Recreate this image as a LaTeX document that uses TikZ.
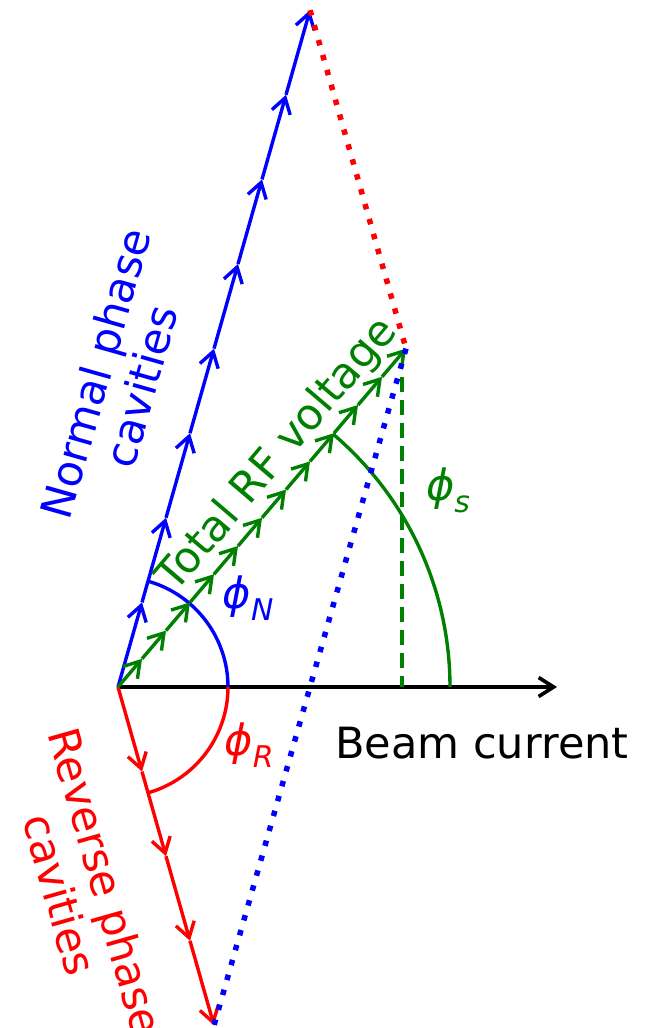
\documentclass[tikz,border=0pt]{standalone}
\usepackage{fontspec}
\setmainfont{DejaVu Sans}
\usetikzlibrary{arrows.meta, calc}
\definecolor{mplBlue}{HTML}{0000FF}
\definecolor{mplRed}{HTML}{FF0000}
\definecolor{mplGreen}{HTML}{008000}
\newcommand{\phisub}[1]{{\itshape ϕ\raisebox{-0.28em}{\fontsize{17}{17}\selectfont #1}}}
\tikzset{
    font=\fontsize{24.5}{27}\selectfont,
    >={Straight Barb[length=0.3cm, width=0.38cm]},
    % Vectors
    vecN/.style={->, draw=mplBlue, line width=0.068cm},
    vecR/.style={->, draw=mplRed, line width=0.068cm},
    vecT/.style={->, draw=mplGreen, line width=0.068cm},
    axis/.style={->, draw=black, line width=0.072cm},
    % Sums & angles
    sumN/.style={draw=mplBlue, line width=0.11cm, dash pattern=on 0.11cm off 0.2cm},
    sumR/.style={draw=mplRed, line width=0.11cm, dash pattern=on 0.11cm off 0.2cm},
    projT/.style={draw=mplGreen, line width=0.068cm, dash pattern=on 0.3cm off 0.16cm},
    arcN/.style={draw=mplBlue, line width=0.068cm},
    arcR/.style={draw=mplRed, line width=0.068cm},
    arcT/.style={draw=mplGreen, line width=0.068cm},
    % Labels
    lblN/.style={text=mplBlue, align=center},
    lblR/.style={text=mplRed, align=center},
    lblT/.style={text=mplGreen, align=center}
}

\begin{document}
\begin{tikzpicture}[x=0.02cm, y=0.02cm]
\useasboundingbox (-118,-341) rectangle (539,687);

\def\segL{87.94}
\def\angN{74.16}
\pgfmathsetmacro{\angT}{atan(4*sin(\angN)/(12*cos(\angN)))}

\coordinate (O) at (0,0);
\coordinate (B) at (439,0);
\coordinate (n0) at (O);
\coordinate (r0) at (O);
\coordinate (g0) at (O);
\foreach \i in {1,...,8} \coordinate (n\i) at (\angN:{\i*\segL});
\foreach \i in {1,...,4} \coordinate (r\i) at (-\angN:{\i*\segL});
\coordinate (T) at ($(n8)+(r4)$);
\foreach \i in {1,...,12} \coordinate (g\i) at ($(O)!\i/12!(T)$);
\coordinate (P) at ($(T)+(-4,-28)$);

% axis and angles
\draw[axis] (O) -- (B);
\draw[arcN] (110,0) arc[start angle=0, end angle=\angN, radius=110];
\draw[arcR] (110,0) arc[start angle=0, end angle=-\angN, radius=110];
\draw[arcT] (332,0) arc[start angle=0, end angle=\angT, radius=332];
\draw[projT] (P) -- (P |- O);

% cavity phasors
\foreach \i [remember=\i as \j (initially 0)] in {1,...,8} \draw[vecN] (n\j) -- (n\i);
\foreach \i [remember=\i as \j (initially 0)] in {1,...,4} \draw[vecR] (r\j) -- (r\i);
\foreach \i [remember=\i as \j (initially 0)] in {1,...,12} \draw[vecT] (g\j) -- (g\i);

\draw[sumR] (n8) -- (T);
\draw[sumN] (T) -- (r4);

\node[lblN, rotate=\angN] (lblNormal) at (0,307) {Normal phase\\cavities};
\node[lblR, rotate=-\angN] (lblReverse) at (-35,-201) {Reverse phase\\cavities};
\node[lblT, rotate=\angT] (lblTotal) at (160,232) {Total RF voltage};
\node[text=mplBlue] (phiN) at (130,89) {\phisub{N}};
\node[text=mplRed] (phiR) at (131,-58) {\phisub{R}};
\node[text=mplGreen] (phiS) at (330,197) {\phisub{s}};
\node[anchor=base west, inner sep=0pt] (lblBeam) at (217,-71) {Beam current};

\end{tikzpicture}
\end{document}
